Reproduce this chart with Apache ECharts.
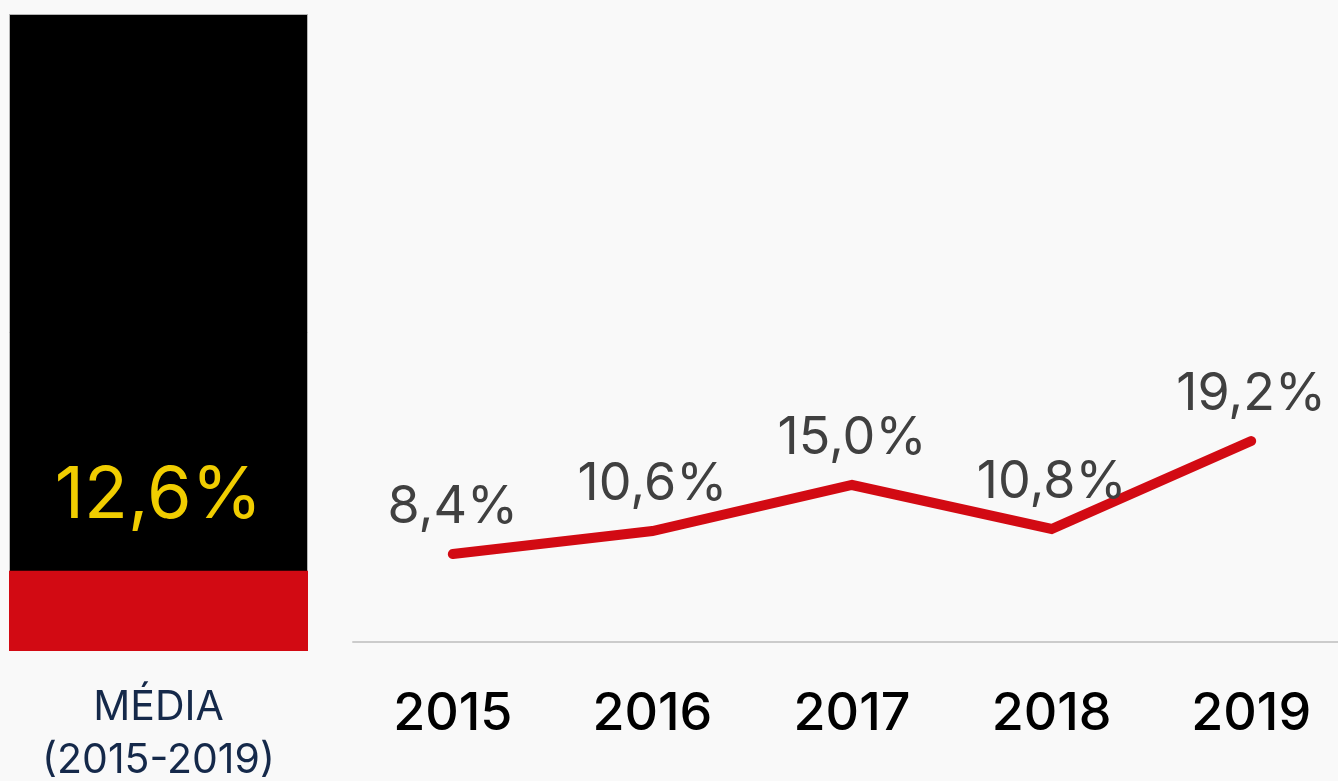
<!DOCTYPE html>
<html>
<head>
<meta charset="utf-8">
<style>
  html, body { margin: 0; padding: 0; background: #f9f9f9; }
  #chart { width: 1338px; height: 781px; }
</style>
<script src="https://cdn.jsdelivr.net/npm/echarts@6/dist/echarts.min.js"></script>
</head>
<body>
<div id="chart"></div>
<script>
// Yearly rate, 2015-2019
const years = ['2015', '2016', '2017', '2018', '2019'];
const rates = [8.4, 10.6, 15.0, 10.8, 19.2];

// Period average shown as a fill inside a 100% column
const avgCategory = ['MÉDIA\n(2015-2019)'];
const avgValue = [12.6];
const fullScale = [100];

const FONT = 'Inter, "Noto Sans", sans-serif';
const pct = v => v.toFixed(1).replace('.', ',') + '%';

const chart = echarts.init(document.getElementById('chart'), null, { renderer: 'canvas' });

chart.setOption({
  backgroundColor: '#f9f9f9',
  animation: false,
  grid: [
    { left: 9, top: 14, width: 299, height: 637, outerBoundsMode: 'none', containLabel: false },
    { left: 353, top: 14, width: 998, height: 628, outerBoundsMode: 'none', containLabel: false }
  ],
  xAxis: [
    {
      gridIndex: 0,
      type: 'category',
      data: avgCategory,
      axisLine: { show: false },
      axisTick: { show: false },
      axisLabel: {
        color: '#15294a',
        fontFamily: FONT,
        fontSize: 41,
        lineHeight: 53,
        margin: 30
      }
    },
    {
      gridIndex: 1,
      type: 'category',
      data: years,
      boundaryGap: true,
      axisLine: { lineStyle: { color: '#cccccc', width: 2 } },
      axisTick: { show: false },
      axisLabel: {
        color: '#000000',
        fontFamily: FONT,
        fontWeight: 500,
        fontSize: 52,
        margin: 46
      }
    }
  ],
  yAxis: [
    { gridIndex: 0, type: 'value', min: 0, max: 100, show: false },
    { gridIndex: 1, type: 'value', min: 0, max: 60, show: false }
  ],
  series: [
    {
      type: 'bar',
      xAxisIndex: 0,
      yAxisIndex: 0,
      data: fullScale,
      barWidth: '100%',
      itemStyle: { color: '#000000', borderColor: '#b5b5b5', borderWidth: 1 },
      silent: true
    },
    {
      type: 'bar',
      xAxisIndex: 0,
      yAxisIndex: 0,
      data: avgValue,
      barWidth: '100%',
      barGap: '-100%',
      itemStyle: { color: '#d20a13' },
      label: {
        show: true,
        position: 'top',
        distance: 38,
        formatter: p => pct(p.value),
        color: '#f0cd00',
        fontFamily: FONT,
        fontSize: 72
      }
    },
    {
      type: 'line',
      xAxisIndex: 1,
      yAxisIndex: 1,
      data: rates,
      symbol: 'circle',
      symbolSize: 1,
      showSymbol: true,
      showAllSymbol: true,
      itemStyle: { color: 'rgba(0,0,0,0)' },
      lineStyle: { color: '#d20a13', width: 10, cap: 'round', join: 'miter' },
      label: {
        show: true,
        position: 'top',
        distance: 20,
        formatter: p => pct(p.value),
        color: '#404040',
        fontFamily: FONT,
        fontSize: 52
      },
      labelLayout: { hideOverlap: false }
    }
  ]
});
</script>
</body>
</html>
